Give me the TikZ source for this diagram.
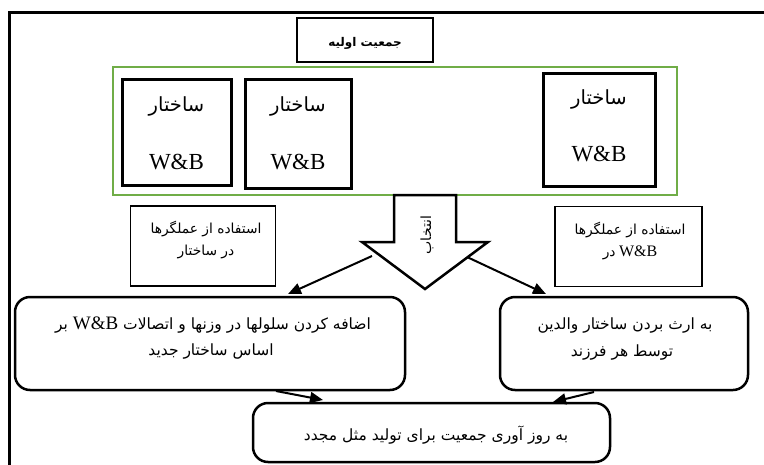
\documentclass[tikz,border=0pt]{standalone}
\usepackage{fontspec}
\setmainfont{Liberation Serif}
\newfontfamily\arabicfont[Script=Arabic]{DejaVu Sans}
\TeXXeTstate=1
\usetikzlibrary{arrows.meta}
\definecolor{popgreen}{RGB}{112,173,71}
\newcommand{\artext}[1]{{\arabicfont\beginR #1\endR}}
\newcommand{\wbtext}[1]{{\rmfamily\fontsize{#1}{#1}\selectfont W\&B}}
\begin{document}
\begin{tikzpicture}[x=1pt,y=-1pt,
  thickbox/.style={draw, line width=3pt, inner sep=0pt},
  thinbox/.style={draw, line width=1.2pt, inner sep=0pt},
  titlebox/.style={draw, line width=1.5pt, inner sep=0pt},
  roundbox/.style={draw, line width=2.5pt, rounded corners=15pt, inner sep=0pt},
  greenbox/.style={draw=popgreen, line width=2pt, inner sep=0pt},
  lbl/.style={inner sep=0pt, font=\fontsize{13.8}{16}\selectfont},
  big/.style={inner sep=0pt, font=\fontsize{19.5}{22}\selectfont},
  wb/.style={inner sep=0pt, font=\fontsize{23}{26}\selectfont},
  mid/.style={inner sep=0pt, font=\fontsize{15.5}{18}\selectfont},
  link/.style={line width=2pt, -{Triangle[length=13pt,width=11pt]}}
]
\useasboundingbox (0,0) rectangle (764,464);
\fill[white] (0,0) rectangle (764,464);
% outer frame (only top and left edges fall inside the picture)
\draw[line width=3pt] (800,12) -- (9,12) -- (9,500);

% title
\node[titlebox, minimum width=136pt, minimum height=44pt] (title) at (365,40) {};
\node[inner sep=0pt, font=\fontsize{12}{15}\selectfont\bfseries] (titletxt) at (365,43) {\artext{جمعیت اولیه}};

% population
\node[greenbox, minimum width=564pt, minimum height=128pt] (pop) at (395,131) {};
\node[thickbox, minimum width=109pt, minimum height=106pt] (s1) at (176.5,132) {};
\node[thickbox, minimum width=106pt, minimum height=109pt] (s2) at (298,133.5) {};
\node[thickbox, minimum width=112pt, minimum height=113pt] (s3) at (599,129.5) {};
\node[big] (s1a) at (176.5,106) {\artext{ساختار}};
\node[wb] (s1b) at (176.5,162) {W\&B};
\node[big] (s2a) at (298,106) {\artext{ساختار}};
\node[wb] (s2b) at (298,162) {W\&B};
\node[big] (s3a) at (599,99) {\artext{ساختار}};
\node[wb] (s3b) at (599,154) {W\&B};

% selection block arrow
\draw[line width=2.5pt, fill=white, miter limit=10] (394,195) -- (456,195) -- (456,242) -- (488,242) -- (425,289) -- (362,242) -- (394,242) -- cycle;
\node[inner sep=0pt, rotate=90, font=\fontsize{14}{16}\selectfont] (sel) at (427,235) {\artext{انتخاب}};

% operator boxes
\node[thinbox, minimum width=145pt, minimum height=80pt] (opl) at (203,246) {};
\node[lbl] (opl1) at (206,229) {\artext{استفاده از عملگرها}};
\node[lbl] (opl2) at (206,252) {\artext{در ساختار}};
\node[thinbox, minimum width=147pt, minimum height=80pt] (opr) at (628.5,246.5) {};
\node[lbl] (opr1) at (630,230) {\artext{استفاده از عملگرها}};
\node[lbl] (opr2) at (630,253) {\artext{در}\ \wbtext{16}};

% result boxes
\node[roundbox, minimum width=390pt, minimum height=93pt] (addbox) at (210,343.5) {};
\node[mid] (add1) at (213,325) {\artext{اضافه کردن سلولها در وزنها و اتصالات \beginL\wbtext{19}\endL{} بر}};
\node[mid] (add2) at (211,351) {\artext{اساس ساختار جدید}};
\node[roundbox, minimum width=248pt, minimum height=93pt] (inh) at (624,343.5) {};
\node[mid] (inh1) at (625,325) {\artext{به ارث بردن ساختار والدین}};
\node[mid] (inh2) at (622,352) {\artext{توسط هر فرزند}};
\node[roundbox, minimum width=357pt, minimum height=59pt] (upd) at (431.5,432.5) {};
\node[mid] (upd1) at (436,435) {\artext{به روز آوری جمعیت برای تولید مثل مجدد}};

% connectors
\coordinate (laS) at (372,256);
\coordinate (laE) at (288,294);
\coordinate (raS) at (467,257);
\coordinate (raE) at (546,294);
\coordinate (lbS) at (276,391);
\coordinate (lbE) at (323,400);
\coordinate (rbS) at (594,392);
\coordinate (rbE) at (553,402);
\draw[link] (laS) -- (laE);
\draw[link] (raS) -- (raE);
\draw[link] (lbS) -- (lbE);
\draw[link] (rbS) -- (rbE);
\end{tikzpicture}
\end{document}
